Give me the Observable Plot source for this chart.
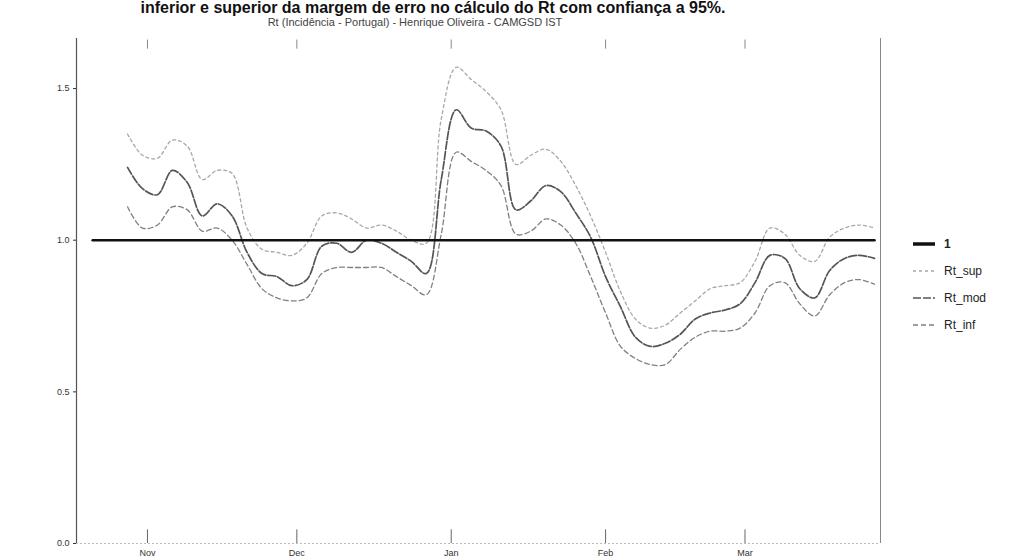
<!DOCTYPE html>
<html><head><meta charset="utf-8">
<script src="https://cdn.jsdelivr.net/npm/d3@7"></script>
<script src="https://cdn.jsdelivr.net/npm/@observablehq/plot@0.6"></script>
<style>
body{margin:0;background:#fff;font-family:"Liberation Sans",Arial,sans-serif;overflow:hidden}
#wrap{position:relative;width:1018px;height:560px;overflow:hidden;background:#fff}
#title{position:absolute;left:0;width:866px;top:0px;line-height:16px;height:16px;text-align:center;font-weight:bold;font-size:16px;color:#111;white-space:nowrap}
#subtitle{position:absolute;left:0;width:830px;top:17px;line-height:11px;height:11px;text-align:center;font-size:11px;color:#444;white-space:nowrap}
#chart{position:absolute;left:0;top:28px}
#legend{position:absolute;left:912px;top:230px;font-size:12px;color:#222}
#legend .it{display:flex;align-items:center;height:27px}
#legend svg{margin-right:8px}
</style>
</head><body>
<div id="wrap">
<div id="title">inferior e superior da margem de erro no cálculo do Rt com confiança a 95%.</div>
<div id="subtitle">Rt (Incidência - Portugal) - Henrique Oliveira - CAMGSD IST</div>
<div id="chart"></div>
<div id="legend"></div>
</div>
<script>
const dates = ["2020-10-28","2020-10-31","2020-11-03","2020-11-06","2020-11-09","2020-11-12","2020-11-15","2020-11-18","2020-11-21","2020-11-24","2020-11-27","2020-11-30","2020-12-03","2020-12-06","2020-12-09","2020-12-12","2020-12-15","2020-12-18","2020-12-21","2020-12-24","2020-12-27","2020-12-30","2021-01-02","2021-01-05","2021-01-08","2021-01-11","2021-01-14","2021-01-17","2021-01-20","2021-01-23","2021-01-26","2021-01-29","2021-02-01","2021-02-04","2021-02-07","2021-02-10","2021-02-13","2021-02-16","2021-02-19","2021-02-22","2021-02-25","2021-02-28","2021-03-03","2021-03-06","2021-03-09","2021-03-12","2021-03-15","2021-03-18","2021-03-21","2021-03-24","2021-03-27"];
const rtSup = [1.35,1.28,1.27,1.33,1.31,1.20,1.23,1.22,1.04,0.97,0.96,0.95,0.99,1.08,1.09,1.07,1.04,1.05,1.03,1.00,0.99,1.40,1.57,1.53,1.49,1.43,1.25,1.28,1.30,1.26,1.18,1.08,0.96,0.83,0.74,0.71,0.72,0.76,0.80,0.84,0.85,0.86,0.93,1.04,1.02,0.95,0.93,1.01,1.04,1.05,1.04];
const rtMod = [1.24,1.17,1.15,1.23,1.19,1.08,1.12,1.08,0.96,0.89,0.88,0.85,0.87,0.98,0.99,0.96,1.00,0.99,0.96,0.93,0.89,1.20,1.43,1.37,1.36,1.31,1.10,1.13,1.18,1.16,1.09,1.01,0.88,0.78,0.68,0.65,0.66,0.69,0.74,0.76,0.77,0.79,0.86,0.95,0.94,0.84,0.81,0.90,0.94,0.95,0.94];
const rtInf = [1.11,1.04,1.05,1.11,1.10,1.03,1.04,1.00,0.92,0.84,0.81,0.80,0.81,0.89,0.91,0.91,0.91,0.91,0.88,0.85,0.82,1.02,1.29,1.26,1.23,1.18,1.02,1.03,1.07,1.05,0.99,0.88,0.76,0.65,0.61,0.59,0.59,0.64,0.68,0.70,0.70,0.71,0.76,0.85,0.86,0.79,0.75,0.82,0.86,0.87,0.855];
const oneDates = ["2020-10-21","2021-03-27"];
const oneValue = 1;
const monthTicks = ["2020-11-01","2020-12-01","2021-01-01","2021-02-01","2021-03-01"];
const yTicks = [0, 0.5, 1.0, 1.5];
const seriesNames = ["1","Rt_sup","Rt_mod","Rt_inf"];

const parse = d3.utcParse("%Y-%m-%d");
const xDomain = [new Date(Date.UTC(2020,9,17,18)), new Date(Date.UTC(2021,2,28,5))];
const yDomain = [0, 1.665];
const months = monthTicks.map(parse);

const styles = {
  "1": {stroke:"#111", strokeWidth:2.6, dash:null},
  "Rt_sup": {stroke:"#a8a8a8", strokeWidth:1.3, dash:"3,3"},
  "Rt_mod": {stroke:"#555", strokeWidth:1.7, dash:"8,2"},
  "Rt_inf": {stroke:"#808080", strokeWidth:1.3, dash:"5,3"}
};

const rows = [];
dates.forEach((d,i)=>{
  rows.push({date:parse(d), v:rtSup[i], s:"Rt_sup"});
  rows.push({date:parse(d), v:rtMod[i], s:"Rt_mod"});
  rows.push({date:parse(d), v:rtInf[i], s:"Rt_inf"});
});
const oneRows = oneDates.map(d=>({date:parse(d), v:oneValue}));

function lineMark(name){
  const st = styles[name];
  return Plot.line(rows.filter(r=>r.s===name), {x:"date", y:"v", stroke:st.stroke, strokeWidth:st.strokeWidth, strokeDasharray:st.dash, curve:"catmull-rom"});
}

const chart = Plot.plot({
  width: 1018, height: 532,
  marginLeft: 76, marginRight: 138, marginTop: 10, marginBottom: 17,
  style: {fontFamily:"Liberation Sans, Arial, sans-serif", fontSize:"9px", color:"#333", background:"transparent"},
  x: {type:"utc", domain:xDomain},
  y: {domain:yDomain},
  marks: [
    Plot.ruleY([yDomain[0]], {stroke:"#bbb", strokeDasharray:"2,2"}),
    Plot.ruleX([xDomain[0]], {stroke:"#555", strokeWidth:1.2}),
    Plot.ruleX([xDomain[1]], {stroke:"#888", strokeWidth:1}),
    Plot.axisY({ticks:yTicks, tickFormat:d3.format(".1f"), tickSize:3, tickPadding:4, label:null, fontSize:9}),
    Plot.axisX({ticks:months, tickFormat:d3.utcFormat("%b"), tickSize:0, tickPadding:6, label:null, fontSize:9}),
    Plot.ruleX(months, {x:d=>d, y1:0, y2:0.045, stroke:"#666"}),
    Plot.ruleX(months, {x:d=>d, y1:yDomain[1]-0.035, y2:yDomain[1]-0.005, stroke:"#888"}),
    lineMark("Rt_sup"),
    lineMark("Rt_inf"),
    lineMark("Rt_mod"),
    Plot.line(oneRows, {x:"date", y:"v", stroke:styles["1"].stroke, strokeWidth:styles["1"].strokeWidth})
  ]
});
document.getElementById("chart").appendChild(chart);

const leg = document.getElementById("legend");
seriesNames.forEach(n=>{
  const st = styles[n];
  const it = document.createElement("div");
  it.className = "it";
  it.innerHTML = `<svg width="24" height="10"><line x1="1" y1="5" x2="23" y2="5" stroke="${st.stroke}" stroke-width="${n==="1"?3.5:1.5}" ${st.dash?`stroke-dasharray="${st.dash}"`:""}/></svg><span style="${n==="1"?"font-weight:bold":""}">${n}</span>`;
  leg.appendChild(it);
});
</script>
</body></html>
